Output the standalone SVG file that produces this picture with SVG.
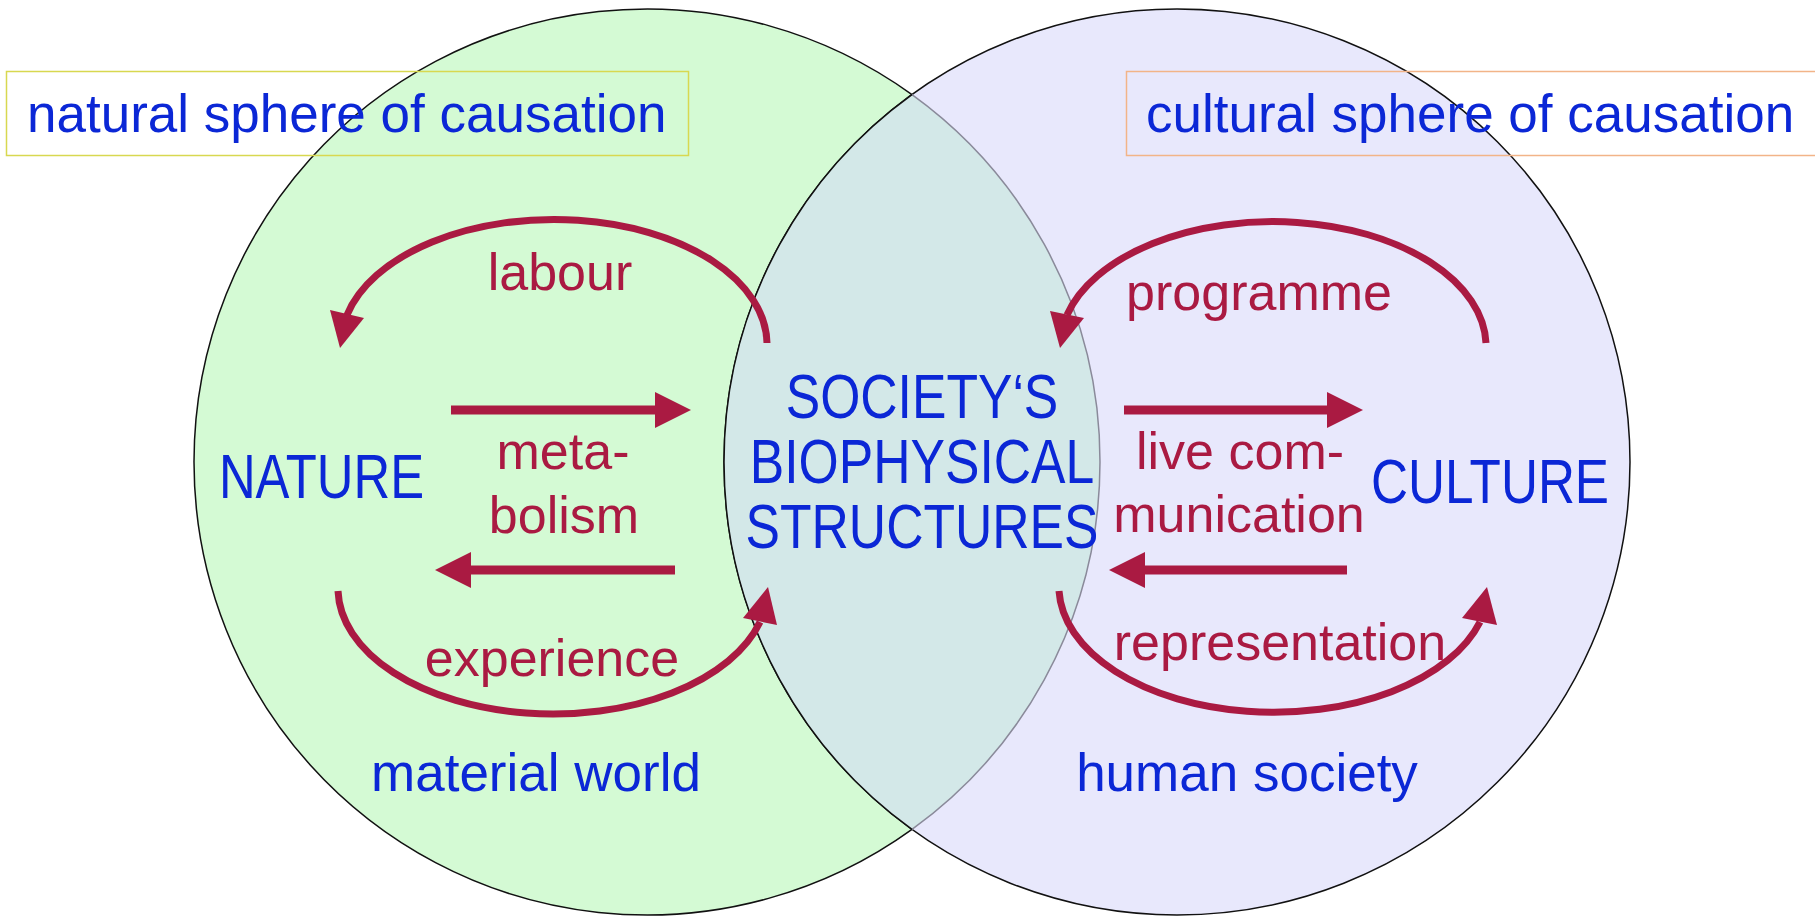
<svg xmlns="http://www.w3.org/2000/svg" width="1815" height="916" viewBox="0 0 1815 916">
<style>
.lbl{font-family:"Liberation Sans",Arial,sans-serif;font-size:53px;fill:#0b27d6}
.big{font-family:"Liberation Sans",Arial,sans-serif;font-size:63px;fill:#0b27d6;text-anchor:middle}
.red{font-family:"Liberation Sans",Arial,sans-serif;font-size:52px;fill:#aa1a42;text-anchor:middle}
.arc{fill:none;stroke:#aa1a42;stroke-width:7}
.bar{fill:none;stroke:#aa1a42;stroke-width:9}
.ah{fill:#aa1a42;stroke:none}
</style>
<defs>
<marker id="head" markerWidth="36" markerHeight="36" refX="0" refY="18" orient="auto" markerUnits="userSpaceOnUse">
<path d="M0,0 L36,18 L0,36 z" fill="#aa1a42"/>
</marker>
</defs>
<rect width="1815" height="916" fill="#ffffff"/>
<g id="spheres">
<circle cx="647" cy="462" r="453" fill="#d4fad4"/>
<circle cx="1177" cy="462" r="453" fill="#e8e8fc" stroke="#111" stroke-width="1.5"/>
<path d="M912 94.6 A453 453 0 0 1 912 829.4 A453 453 0 0 1 912 94.6 z" fill="#d3e8e8"/>
<path d="M912 94.6 A453 453 0 1 0 912 829.4" fill="none" stroke="#111" stroke-width="1.5"/>
<path d="M912 94.6 A453 453 0 0 1 912 829.4" fill="none" stroke="#8a8a9a" stroke-width="1.5"/>
<path d="M912 829.4 A453 453 0 0 1 912 94.6" fill="none" stroke="#111" stroke-width="1.5"/>
</g>
<g id="natural-box">
<rect x="6.5" y="71.5" width="682" height="84" fill="none" stroke="#d8d850" stroke-width="1.5"/>
<text class="lbl" x="27" y="132">natural sphere of causation</text>
</g>
<g id="cultural-box">
<rect x="1126.5" y="71.5" width="720" height="84" fill="none" stroke="#f2b488" stroke-width="1.5"/>
<text class="lbl" x="1146" y="132">cultural sphere of causation</text>
</g>
<g id="nature">
<text class="big" transform="translate(321.5,498) scale(0.807,1)" x="0" y="0">NATURE</text>
</g>
<g id="society">
<text class="big" transform="translate(922,0) scale(0.82,1)"><tspan x="0" y="418">SOCIETY‘S</tspan><tspan x="0" y="483">BIOPHYSICAL</tspan><tspan x="0" y="548">STRUCTURES</tspan></text>
</g>
<g id="culture">
<text class="big" transform="translate(1490,503) scale(0.813,1)" x="0" y="0">CULTURE</text>
</g>
<g id="material-world">
<text class="lbl" x="536" y="791" text-anchor="middle">material world</text>
</g>
<g id="human-society">
<text class="lbl" x="1247" y="791" text-anchor="middle">human society</text>
</g>
<g id="connectors">
<path class="arc" d="M767 343 A213 125 0 0 0 347 315"/>
<polygon class="ah" points="340,348 330,310 364,318"/>
<path class="arc" d="M338 591 A215 126 0 0 0 760 622"/>
<polygon class="ah" points="768,587 743,618 777,625"/>
<path class="arc" d="M1486 343 A213 125 0 0 0 1067 315"/>
<polygon class="ah" points="1060,348 1050,311 1084,318"/>
<path class="arc" d="M1059 591 A215 126 0 0 0 1480 622"/>
<polygon class="ah" points="1487,587 1462,618 1497,625"/>
<line class="bar" x1="451" y1="410" x2="655" y2="410" marker-end="url(#head)"/>
<line class="bar" x1="675" y1="570" x2="471" y2="570" marker-end="url(#head)"/>
<line class="bar" x1="1124" y1="410" x2="1327" y2="410" marker-end="url(#head)"/>
<line class="bar" x1="1347" y1="570" x2="1145" y2="570" marker-end="url(#head)"/>
</g>
<g id="connector-labels">
<text class="red"><tspan x="563" y="469">meta-</tspan><tspan x="564" y="533">bolism</tspan></text>
<text class="red" x="560" y="290">labour</text>
<text class="red" x="552" y="676">experience</text>
<text class="red" x="1259" y="310">programme</text>
<text class="red"><tspan x="1240" y="469">live com-</tspan><tspan x="1239" y="532">munication</tspan></text>
<text class="red" x="1280" y="660">representation</text>
</g>
</svg>
